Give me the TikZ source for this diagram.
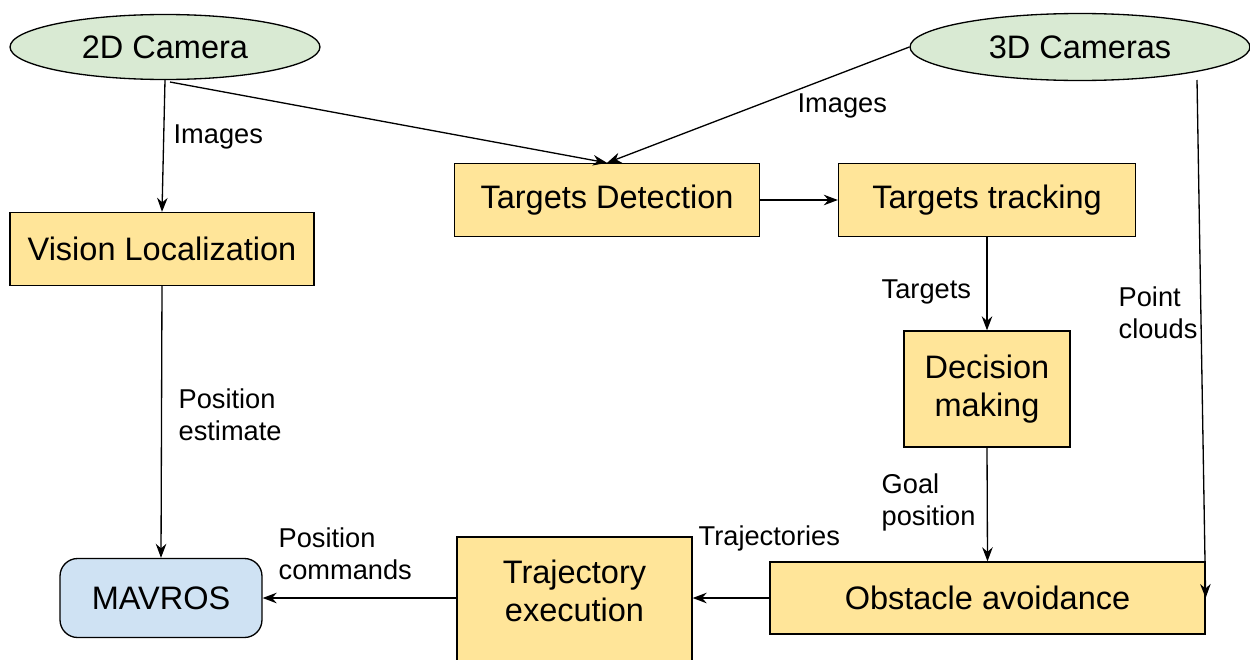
\documentclass[tikz,border=0pt]{standalone}
\usepackage{fontspec}
\setmainfont{Liberation Sans}
\usetikzlibrary{shapes.geometric,arrows.meta}

\definecolor{camgreen}{HTML}{D9EAD3}
\definecolor{procyellow}{HTML}{FFE599}
\definecolor{rosblue}{HTML}{CFE2F3}

\begin{document}
\begin{tikzpicture}[x=0.02cm,y=-0.02cm,line width=0.75pt,
	camera/.style={ellipse,draw,fill=camgreen,inner sep=0pt,font=\fontsize{18.5}{22}\selectfont},
	module/.style={rectangle,draw,fill=procyellow,inner sep=0pt,align=center,font=\fontsize{18.5}{21.6}\selectfont},
	link/.style={-{Stealth[length=8pt,width=6pt]}},
	lbl/.style={align=left,inner sep=0pt,font=\fontsize{15.5}{18.2}\selectfont}]

	\useasboundingbox (0,0) rectangle (1250,659);

	% sensors
	\node[camera,minimum width=6.2cm,minimum height=1.3cm] (cam2d) at (165,47) {2D Camera};
	\node[camera,minimum width=6.8cm,minimum height=1.34cm] (cam3d) at (1080,47) {3D Cameras};

	% processing modules
	\node[module,minimum width=6.1cm,minimum height=1.46cm] (detect) at (607,200) {Targets Detection};
	\node[module,minimum width=5.94cm,minimum height=1.46cm] (track) at (987,200) {Targets tracking};
	\node[module,minimum width=6.08cm,minimum height=1.46cm] (vision) at (162,249) {Vision Localization};
	\node[module,minimum width=3.32cm,minimum height=2.32cm] (decide) at (987,389) {Decision\\making};
	\node[module,minimum width=8.7cm,minimum height=1.44cm] (avoid) at (987.5,598) {Obstacle avoidance};
	\node[module,minimum width=4.7cm,minimum height=2.5cm,
		label={[align=center,font=\fontsize{18.5}{21.6}\selectfont,yshift=4.8pt]center:Trajectory\\execution}]
		(traj) at (574.5,599.5) {};
	\node[rectangle,rounded corners=10pt,draw,fill=rosblue,minimum width=4.04cm,minimum height=1.58cm,
		font=\fontsize{18.5}{22}\selectfont] (mavros) at (161,598) {MAVROS};

	% connectors
	\draw[link] (cam2d.south) -- (vision.north);
	\draw[link] (170,82) -- (detect.north);
	\draw[link] (cam3d.west) -- (detect.north);
	\draw[link] (detect.east) -- (track.west);
	\draw[link] (track.south) -- (decide.north);
	\draw[link] (1197,80) -- (avoid.east);
	\draw[link] (decide.south) -- (avoid.north);
	\draw[link] (avoid.west) -- (avoid.west -| traj.east);
	\draw[link] (avoid.west -| traj.west) -- (mavros.east);
	\draw[link] (vision.south) -- (mavros.north);

	% labels
	\node[lbl,anchor=west] (l1) at (173,137) {Images};
	\node[lbl,anchor=west] (l2) at (797,106) {Images};
	\node[lbl,anchor=west] (l3) at (881,292) {Targets};
	\node[lbl,anchor=west] (l4) at (1118,313) {Point\\clouds};
	\node[lbl,anchor=west] (l5) at (178,415) {Position\\estimate};
	\node[lbl,anchor=west] (l6) at (881,502) {Goal\\position};
	\node[lbl,anchor=west] (l7) at (698,538) {Trajectories};
	\node[lbl,anchor=west] (l8) at (278,554) {Position\\commands};
\end{tikzpicture}
\end{document}
